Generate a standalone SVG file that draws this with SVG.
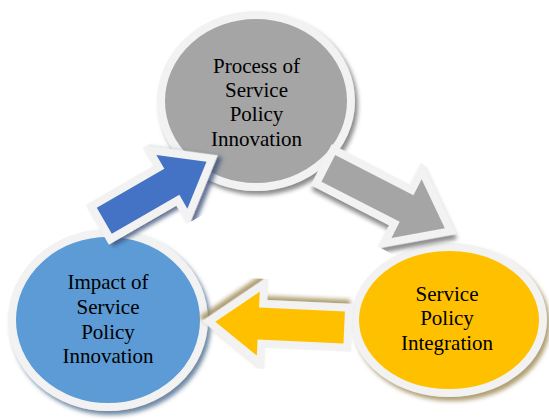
<svg xmlns="http://www.w3.org/2000/svg" width="549" height="419" viewBox="0 0 549 419">
  <style>
    .ring { stroke: #f2f2f2; stroke-width: 8; }
    .lbl { font-family: "Liberation Serif", "Times New Roman", serif; font-size: 21px; fill: #000; text-anchor: middle; }
    .aout { fill: #f2f2f2; stroke: #f2f2f2; stroke-width: 16; stroke-linejoin: miter; stroke-miterlimit: 6; }
  </style>
  <defs>
    <filter id="shGray" x="-20%" y="-20%" width="140%" height="140%">
      <feDropShadow dx="3" dy="4" stdDeviation="2" flood-color="#6f6f6f" flood-opacity="0.8"/>
    </filter>
    <filter id="shBlue" x="-20%" y="-20%" width="140%" height="140%">
      <feDropShadow dx="3" dy="4" stdDeviation="2" flood-color="#4a6a8c" flood-opacity="0.8"/>
    </filter>
    <filter id="shYellow" x="-20%" y="-20%" width="140%" height="140%">
      <feDropShadow dx="3" dy="4" stdDeviation="2" flood-color="#9c8650" flood-opacity="0.8"/>
    </filter>
    <filter id="shDBlue" x="-20%" y="-20%" width="140%" height="140%">
      <feDropShadow dx="3" dy="4" stdDeviation="2" flood-color="#3b4f78" flood-opacity="0.8"/>
    </filter>
  </defs>

  <g id="node-process">
    <ellipse cx="256" cy="101" rx="95" ry="86" fill="#a5a5a5" class="ring" filter="url(#shGray)"/>
    <text class="lbl" x="256.5" y="73">Process of</text>
    <text class="lbl" x="256.5" y="97">Service</text>
    <text class="lbl" x="256.5" y="121">Policy</text>
    <text class="lbl" x="256.5" y="145.5">Innovation</text>
  </g>

  <g id="node-impact">
    <ellipse cx="108" cy="320" rx="96" ry="87" fill="#5b9bd5" class="ring" filter="url(#shBlue)"/>
    <text class="lbl" x="108" y="289">Impact of</text>
    <text class="lbl" x="108" y="314">Service</text>
    <text class="lbl" x="108" y="338.5">Policy</text>
    <text class="lbl" x="108" y="363">Innovation</text>
  </g>

  <g id="node-integration">
    <ellipse cx="449" cy="320" rx="94" ry="73" fill="#ffc000" class="ring" filter="url(#shYellow)"/>
    <text class="lbl" x="447" y="300.5">Service</text>
    <text class="lbl" x="447" y="325">Policy</text>
    <text class="lbl" x="447" y="349.5">Integration</text>
  </g>

  <g id="connectors">
    <g transform="translate(104.3,220.8) rotate(-30)">
      <polygon class="aout" filter="url(#shDBlue)" points="0,-15 78,-15 78,-31 118,0 78,31 78,15 0,15"/>
      <polygon fill="#4472c4" points="0,-15 78,-15 78,-31 118,0 78,31 78,15 0,15"/>
    </g>
    <g transform="translate(328.3,168.3) rotate(27.2)">
      <polygon class="aout" filter="url(#shGray)" points="0,-15 88,-15 88,-33 131,0 88,33 88,15 0,15"/>
      <polygon fill="#a5a5a5" points="0,-15 88,-15 88,-33 131,0 88,33 88,15 0,15"/>
    </g>
    <g transform="translate(344.2,327.5) rotate(182.6)">
      <polygon class="aout" filter="url(#shYellow)" points="0,-16 86,-16 86,-32 129,0 86,32 86,16 0,16"/>
      <polygon fill="#ffc000" points="0,-16 86,-16 86,-32 129,0 86,32 86,16 0,16"/>
    </g>
  </g>
</svg>
